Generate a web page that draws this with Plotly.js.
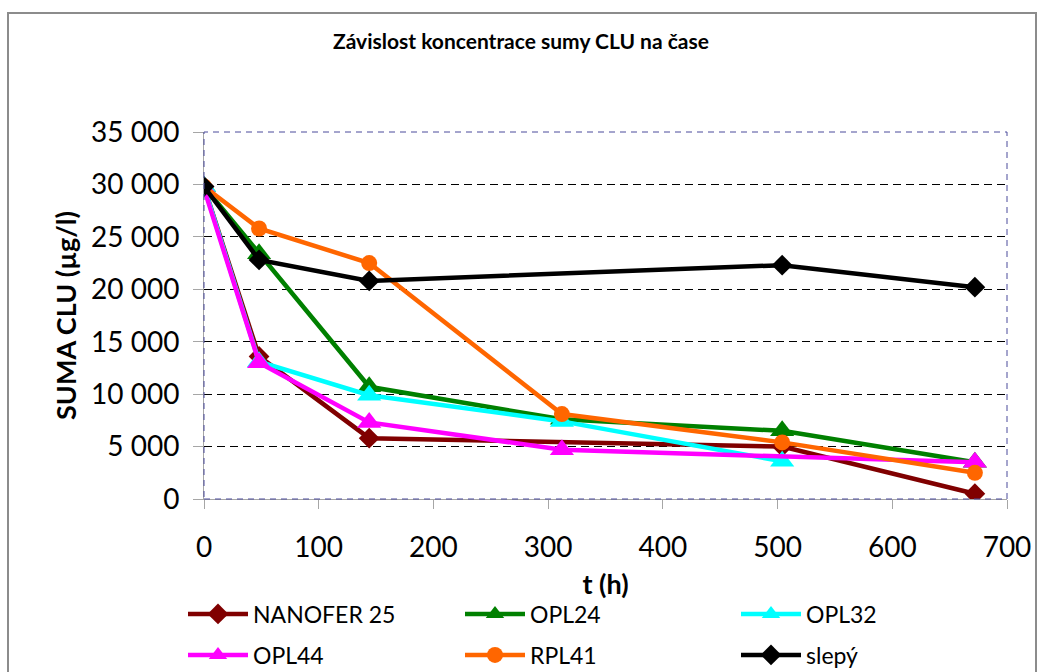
<!DOCTYPE html>
<html>
<head>
<meta charset="utf-8">
<script src="https://cdn.plot.ly/plotly-3.0.1.min.js"></script>
<style>
html,body{margin:0;padding:0;background:#fff;}
#chart{width:1037px;height:672px;}
</style>
</head>
<body>
<div id="chart"></div>
<script>
// Data (time in hours, concentration in µg/l)
const seriesNames = ["NANOFER 25","OPL24","OPL32","OPL44","RPL41","slepý"];
const tNanofer = [0,48,144,504,672];
const vNanofer = [29800,13600,5800,5000,500];
const tOpl24 = [0,48,144,312,504,672];
const vOpl24 = [29800,23400,10700,7600,6500,3500];
const tOpl32 = [0,48,144,312,504];
const vOpl32 = [29800,13100,9900,7400,3600];
const tOpl44 = [0,48,144,312,672];
const vOpl44 = [29600,13000,7300,4700,3500];
const tRpl41 = [0,48,144,312,504,672];
const vRpl41 = [29800,25800,22500,8100,5400,2500];
const tSlepy = [0,48,144,504,672];
const vSlepy = [29800,22800,20800,22300,20200];
const xTicks = [0,100,200,300,400,500,600,700];
const yTicks = [0,5000,10000,15000,20000,25000,30000,35000];

const FONT = "Lato, 'Liberation Sans', Arial, sans-serif";

// plot area in pixels (for converting legend placement to paper coords)
const PL = 204, PR = 1007, PT = 132, PB = 499;
const px2x = p => (p - PL) / (PR - PL);
const px2y = p => (PB - p) / (PB - PT);

function tr(name, x, y, color, symbol, size, legend){
  return {
    type:'scatter', mode:'lines+markers', name:name, x:x, y:y,
    line:{color:color, width:4.5},
    marker:{color:color, symbol:symbol, size:size, line:{width:0}},
    legend: legend
  };
}

const data = [
  tr(seriesNames[0], tNanofer, vNanofer, '#800000', 'diamond', 16, 'legend'),
  tr(seriesNames[1], tOpl24, vOpl24, '#008000', 'triangle-up', 21, 'legend2'),
  tr(seriesNames[2], tOpl32, vOpl32, '#00FFFF', 'triangle-up', 21, 'legend3'),
  tr(seriesNames[3], tOpl44, vOpl44, '#FF00FF', 'triangle-up', 21, 'legend4'),
  tr(seriesNames[4], tRpl41, vRpl41, '#FF6600', 'circle', 16, 'legend5'),
  tr(seriesNames[5], tSlepy, vSlepy, '#000000', 'diamond', 16, 'legend6')
];

function leg(xpx, ypx){
  return {
    orientation:'h', x:px2x(xpx), xanchor:'left', y:px2y(ypx), yanchor:'middle',
    font:{family:FONT, size:23, color:'#000'},
    bgcolor:'rgba(0,0,0,0)', itemwidth:60, borderwidth:0
  };
}

const layout = {
  width:1037, height:672,
  margin:{l:PL, r:1037-PR, t:PT, b:672-PB, autoexpand:false},
  paper_bgcolor:'#fff', plot_bgcolor:'#fff',
  separators:', ',
  font:{family:FONT, color:'#000'},
  title:{
    text:'<b>Závislost koncentrace sumy CLU na čase</b>',
    font:{family:FONT, size:21, color:'#000'},
    x:0.5024, xref:'container', xanchor:'center',
    y:1-42/672, yref:'container', yanchor:'middle'
  },
  xaxis:{
    range:[0,700], tickvals:xTicks, ticktext:xTicks.map(String),
    showgrid:false, zeroline:false,
    showline:true, linecolor:'#a6a6a6', linewidth:1,
    ticks:'outside', ticklen:9, tickcolor:'#a6a6a6',
    tickfont:{family:FONT, size:28, color:'#000'},
    ticklabelstandoff:14,
    title:{text:'<b>t (h)</b>', font:{family:FONT, size:27, color:'#000'}, standoff:13}
  },
  yaxis:{
    range:[0,35000], tickvals:yTicks, tickformat:',d',
    showgrid:true, gridcolor:'#000', gridwidth:1, griddash:'8px,5px',
    zeroline:false,
    showline:true, linecolor:'#a6a6a6', linewidth:1,
    ticks:'outside', ticklen:10, tickcolor:'#a6a6a6',
    tickfont:{family:FONT, size:28, color:'#000'},
    ticklabelstandoff:8,
    title:{text:'<b>SUMA CLU (µg/l)</b>', font:{family:FONT, size:27, color:'#000'}, standoff:6}
  },
  legend:  leg(183, 614),
  legend2: leg(460, 614),
  legend3: leg(736, 614),
  legend4: leg(183, 655),
  legend5: leg(460, 655),
  legend6: leg(736, 655),
  shapes:[
    {type:'rect', xref:'paper', yref:'paper', x0:0, x1:1, y0:0, y1:1,
     line:{color:'#4b4b9b', width:1, dash:'6px,5px'}, layer:'above'},
    {type:'rect', xref:'paper', yref:'paper',
     x0:px2x(8), x1:px2x(1036), y0:px2y(700), y1:px2y(13),
     line:{color:'#8c8c8c', width:2}, layer:'below'}
  ],
  showlegend:true
};

Plotly.newPlot('chart', data, layout, {staticPlot:true, displayModeBar:false});
</script>
</body>
</html>
